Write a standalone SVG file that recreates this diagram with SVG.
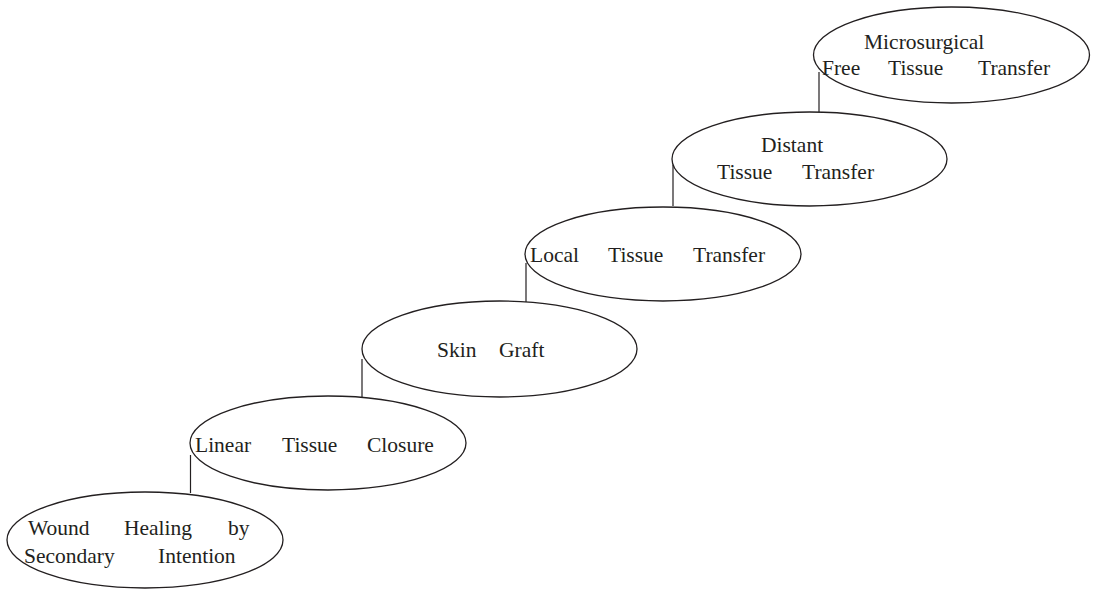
<svg xmlns="http://www.w3.org/2000/svg" width="1093" height="591" viewBox="0 0 1093 591">
<style>
.n{fill:#fff;stroke:#231f20;stroke-width:1.3}
.c{stroke:#231f20;stroke-width:1.2;fill:none}
text{font-family:"Liberation Serif","Times New Roman",serif;font-size:21.5px;fill:#231f20}
</style>
<rect width="1093" height="591" fill="#fff"/>
<g id="connectors">
<line class="c" x1="190.5" y1="455" x2="190.5" y2="493"/>
<line class="c" x1="362" y1="359" x2="362" y2="398"/>
<line class="c" x1="526" y1="263" x2="526" y2="302"/>
<line class="c" x1="673" y1="165" x2="673" y2="206"/>
<line class="c" x1="819" y1="72" x2="819" y2="112"/>
</g>
<g id="n1">
<ellipse class="n" cx="145" cy="540" rx="138" ry="48"/>
<text x="28" y="535">Wound</text><text x="124" y="535">Healing</text><text x="228" y="535">by</text>
<text x="24" y="563">Secondary</text><text x="158" y="563">Intention</text>
</g>
<g id="n2">
<ellipse class="n" cx="328" cy="443" rx="138" ry="47"/>
<text x="195" y="452">Linear</text><text x="282" y="452">Tissue</text><text x="367" y="452">Closure</text>
</g>
<g id="n3">
<ellipse class="n" cx="499.5" cy="349" rx="137.5" ry="48"/>
<text x="437" y="357">Skin</text><text x="499" y="357">Graft</text>
</g>
<g id="n4">
<ellipse class="n" cx="663" cy="254" rx="138" ry="47"/>
<text x="530" y="262">Local</text><text x="608" y="262">Tissue</text><text x="693" y="262">Transfer</text>
</g>
<g id="n5">
<ellipse class="n" cx="809.5" cy="159" rx="137.5" ry="47"/>
<text x="761" y="152">Distant</text>
<text x="717" y="179">Tissue</text><text x="802" y="179">Transfer</text>
</g>
<g id="n6">
<ellipse class="n" cx="951.5" cy="55" rx="138" ry="48"/>
<text x="864" y="49">Microsurgical</text>
<text x="822" y="75">Free</text><text x="888" y="75">Tissue</text><text x="978" y="75">Transfer</text>
</g>
</svg>
